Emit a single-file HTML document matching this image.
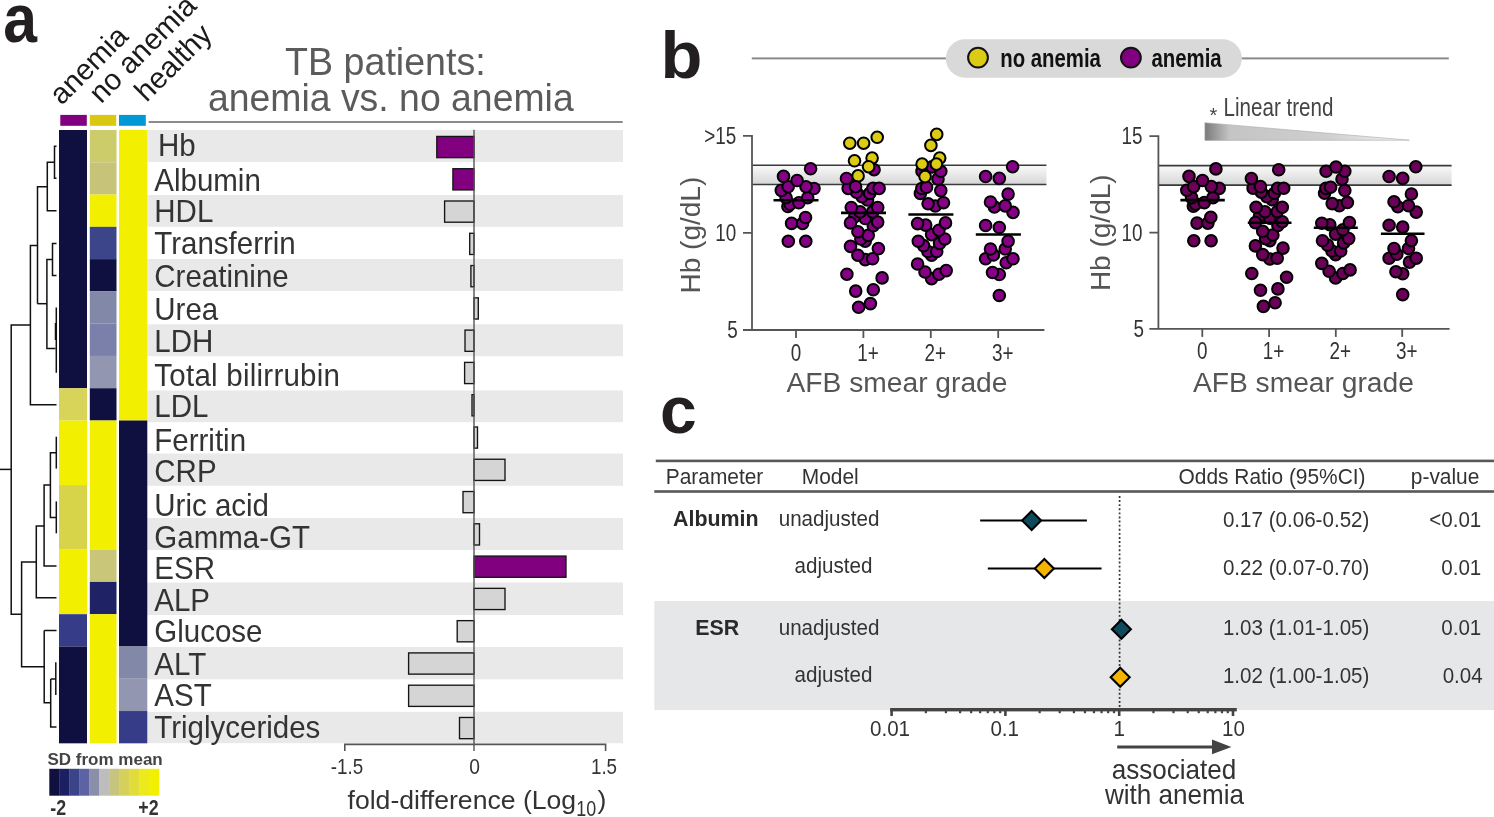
<!DOCTYPE html>
<html><head><meta charset="utf-8"><style>
html,body{margin:0;padding:0;background:#fff;}
svg{display:block;will-change:transform;}
text{font-family:"Liberation Sans", sans-serif;}
</style></head><body>
<svg width="1494" height="817" viewBox="0 0 1494 817">
<defs>
<linearGradient id="band" x1="0" y1="0" x2="0" y2="1">
<stop offset="0" stop-color="#fafafa"/><stop offset="1" stop-color="#d6d6d6"/></linearGradient>
<linearGradient id="tri" x1="0" y1="0" x2="1" y2="0">
<stop offset="0" stop-color="#7a7a7a"/><stop offset="0.12" stop-color="#c4c4c4"/><stop offset="0.6" stop-color="#cfcfcf"/><stop offset="1" stop-color="#f4f4f4"/></linearGradient>
</defs>

<text transform="translate(3.3,42.3) scale(0.88,1)" font-size="69" fill="#231f20" font-weight="bold" text-anchor="start" >a</text>
<text transform="translate(61.6,106.1) rotate(-45)" font-size="29.4" fill="#1a1a1a">anemia</text>
<text transform="translate(100.9,104.6) rotate(-45)" font-size="29.4" fill="#1a1a1a">no anemia</text>
<text transform="translate(146.6,103) rotate(-45)" font-size="29.4" fill="#1a1a1a">healthy</text>
<rect x="60.3" y="114.9" width="26.50" height="10.9" fill="#800080"/>
<rect x="89.8" y="114.9" width="26.40" height="10.9" fill="#d8c910"/>
<rect x="119" y="114.9" width="26.80" height="10.9" fill="#0099d6"/>
<text transform="translate(385.4,75.2) scale(1.0,1.02)" font-size="37.6" fill="#5b5b5b" font-weight="normal" text-anchor="middle" >TB patients:</text>
<text transform="translate(390.8,111.3) scale(1.0,1.02)" font-size="37.4" fill="#5b5b5b" font-weight="normal" text-anchor="middle" >anemia vs. no anemia</text>
<rect x="148.7" y="121" width="474" height="2" fill="#8a8a8a"/>
<rect x="147.3" y="130" width="475.7" height="31.9" fill="#e9e9e9"/>
<rect x="147.3" y="195" width="475.7" height="31.8" fill="#e9e9e9"/>
<rect x="147.3" y="259" width="475.7" height="32.0" fill="#e9e9e9"/>
<rect x="147.3" y="324.3" width="475.7" height="31.9" fill="#e9e9e9"/>
<rect x="147.3" y="390.5" width="475.7" height="31.7" fill="#e9e9e9"/>
<rect x="147.3" y="453.5" width="475.7" height="32.3" fill="#e9e9e9"/>
<rect x="147.3" y="518" width="475.7" height="32.0" fill="#e9e9e9"/>
<rect x="147.3" y="582.5" width="475.7" height="32.5" fill="#e9e9e9"/>
<rect x="147.3" y="647" width="475.7" height="32.3" fill="#e9e9e9"/>
<rect x="147.3" y="711.8" width="475.7" height="31.4" fill="#e9e9e9"/>
<rect x="59" y="130.00" width="28.00" height="258.24" fill="#0f1040"/>
<rect x="59" y="388.24" width="28.00" height="32.28" fill="#d8d45a"/>
<rect x="59" y="420.52" width="28.00" height="64.56" fill="#f2ef00"/>
<rect x="59" y="485.08" width="28.00" height="64.56" fill="#d8d44a"/>
<rect x="59" y="549.64" width="28.00" height="64.56" fill="#f2ef00"/>
<rect x="59" y="614.20" width="28.00" height="32.28" fill="#363c88"/>
<rect x="59" y="646.48" width="28.00" height="96.84" fill="#0f1040"/>
<rect x="89.8" y="130.00" width="26.70" height="32.28" fill="#cccc6a"/>
<rect x="89.8" y="162.28" width="26.70" height="32.28" fill="#c7c47a"/>
<rect x="89.8" y="194.56" width="26.70" height="32.28" fill="#f2ef00"/>
<rect x="89.8" y="226.84" width="26.70" height="32.28" fill="#3c448a"/>
<rect x="89.8" y="259.12" width="26.70" height="32.28" fill="#0f1040"/>
<rect x="89.8" y="291.40" width="26.70" height="32.28" fill="#8288a8"/>
<rect x="89.8" y="323.68" width="26.70" height="32.28" fill="#7a80aa"/>
<rect x="89.8" y="355.96" width="26.70" height="32.28" fill="#9296b0"/>
<rect x="89.8" y="388.24" width="26.70" height="32.28" fill="#0f1040"/>
<rect x="89.8" y="420.52" width="26.70" height="129.12" fill="#f2ef00"/>
<rect x="89.8" y="549.64" width="26.70" height="32.28" fill="#c9c679"/>
<rect x="89.8" y="581.92" width="26.70" height="32.28" fill="#1f2366"/>
<rect x="89.8" y="614.20" width="26.70" height="129.12" fill="#f2ef00"/>
<rect x="119" y="130.00" width="28.30" height="290.52" fill="#f2ef00"/>
<rect x="119" y="420.52" width="28.30" height="225.96" fill="#0f1040"/>
<rect x="119" y="646.48" width="28.30" height="32.28" fill="#8288a8"/>
<rect x="119" y="678.76" width="28.30" height="32.28" fill="#9296b0"/>
<rect x="119" y="711.04" width="28.30" height="32.28" fill="#363c88"/>
<text transform="translate(158,155.8) scale(1.0,1.04)" font-size="29.5" fill="#333" font-weight="normal" text-anchor="start" >Hb</text>
<text transform="translate(154.3,190.6) scale(1.0,1.04)" font-size="29.5" fill="#333" font-weight="normal" text-anchor="start" >Albumin</text>
<text transform="translate(154.3,221.8) scale(1.0,1.04)" font-size="29.5" fill="#333" font-weight="normal" text-anchor="start" >HDL</text>
<text transform="translate(154.3,253.6) scale(1.0,1.04)" font-size="29.5" fill="#333" font-weight="normal" text-anchor="start" >Transferrin</text>
<text transform="translate(154.3,287.3) scale(1.0,1.04)" font-size="29.5" fill="#333" font-weight="normal" text-anchor="start" >Creatinine</text>
<text transform="translate(154.3,320.2) scale(1.0,1.04)" font-size="29.5" fill="#333" font-weight="normal" text-anchor="start" >Urea</text>
<text transform="translate(154.3,351.8) scale(1.0,1.04)" font-size="29.5" fill="#333" font-weight="normal" text-anchor="start" >LDH</text>
<text transform="translate(154.3,386.2) scale(1.0,1.04)" font-size="29.5" fill="#333" font-weight="normal" text-anchor="start" letter-spacing="0.25">Total bilirrubin</text>
<text transform="translate(154.3,417.4) scale(1.0,1.04)" font-size="29.5" fill="#333" font-weight="normal" text-anchor="start" >LDL</text>
<text transform="translate(154.3,450.7) scale(1.0,1.04)" font-size="29.5" fill="#333" font-weight="normal" text-anchor="start" >Ferritin</text>
<text transform="translate(154.3,482.3) scale(1.0,1.04)" font-size="29.5" fill="#333" font-weight="normal" text-anchor="start" >CRP</text>
<text transform="translate(154.3,516) scale(1.0,1.04)" font-size="29.5" fill="#333" font-weight="normal" text-anchor="start" >Uric acid</text>
<text transform="translate(154.3,547.8) scale(1.0,1.04)" font-size="29.5" fill="#333" font-weight="normal" text-anchor="start" >Gamma-GT</text>
<text transform="translate(154.3,579.4) scale(1.0,1.04)" font-size="29.5" fill="#333" font-weight="normal" text-anchor="start" >ESR</text>
<text transform="translate(154.3,611.4) scale(1.0,1.04)" font-size="29.5" fill="#333" font-weight="normal" text-anchor="start" >ALP</text>
<text transform="translate(154.3,642) scale(1.0,1.04)" font-size="29.5" fill="#333" font-weight="normal" text-anchor="start" >Glucose</text>
<text transform="translate(154.3,675.1) scale(1.0,1.04)" font-size="29.5" fill="#333" font-weight="normal" text-anchor="start" >ALT</text>
<text transform="translate(154.3,706.3) scale(1.0,1.04)" font-size="29.5" fill="#333" font-weight="normal" text-anchor="start" >AST</text>
<text transform="translate(154.3,738.2) scale(1.0,1.04)" font-size="29.5" fill="#333" font-weight="normal" text-anchor="start" >Triglycerides</text>
<rect x="436.80" y="136.44" width="37.20" height="21.2" fill="#800080" stroke="#151515" stroke-width="1.35"/>
<rect x="452.90" y="168.72" width="21.10" height="21.2" fill="#800080" stroke="#151515" stroke-width="1.35"/>
<rect x="444.60" y="201.00" width="29.40" height="21.2" fill="#d5d5d5" stroke="#151515" stroke-width="1.35"/>
<rect x="469.70" y="233.28" width="4.30" height="21.2" fill="#d5d5d5" stroke="#151515" stroke-width="1.35"/>
<rect x="470.90" y="265.56" width="3.10" height="21.2" fill="#d5d5d5" stroke="#151515" stroke-width="1.35"/>
<rect x="474.00" y="297.84" width="4.30" height="21.2" fill="#d5d5d5" stroke="#151515" stroke-width="1.35"/>
<rect x="465.00" y="330.12" width="9.00" height="21.2" fill="#d5d5d5" stroke="#151515" stroke-width="1.35"/>
<rect x="464.60" y="362.40" width="9.40" height="21.2" fill="#d5d5d5" stroke="#151515" stroke-width="1.35"/>
<rect x="472.00" y="394.68" width="2.00" height="21.2" fill="#d5d5d5" stroke="#151515" stroke-width="1.35"/>
<rect x="474.00" y="426.96" width="3.50" height="21.2" fill="#d5d5d5" stroke="#151515" stroke-width="1.35"/>
<rect x="474.00" y="459.24" width="31.00" height="21.2" fill="#d5d5d5" stroke="#151515" stroke-width="1.35"/>
<rect x="463.00" y="491.52" width="11.00" height="21.2" fill="#d5d5d5" stroke="#151515" stroke-width="1.35"/>
<rect x="474.00" y="523.80" width="5.50" height="21.2" fill="#d5d5d5" stroke="#151515" stroke-width="1.35"/>
<rect x="474.00" y="556.08" width="92.00" height="21.2" fill="#800080" stroke="#151515" stroke-width="1.35"/>
<rect x="474.00" y="588.36" width="31.00" height="21.2" fill="#d5d5d5" stroke="#151515" stroke-width="1.35"/>
<rect x="457.20" y="620.64" width="16.80" height="21.2" fill="#d5d5d5" stroke="#151515" stroke-width="1.35"/>
<rect x="408.60" y="652.92" width="65.40" height="21.2" fill="#d5d5d5" stroke="#151515" stroke-width="1.35"/>
<rect x="408.60" y="685.20" width="65.40" height="21.2" fill="#d5d5d5" stroke="#151515" stroke-width="1.35"/>
<rect x="459.50" y="717.48" width="14.50" height="21.2" fill="#d5d5d5" stroke="#151515" stroke-width="1.35"/>
<line x1="474" y1="129.8" x2="474" y2="751" stroke="#555" stroke-width="1.4"/>
<path d="M344.8,751 V744.4 H605.6 V751" fill="none" stroke="#555" stroke-width="1.6"/>
<text transform="translate(347,774) scale(0.88,1.0)" font-size="21.4" fill="#333" font-weight="normal" text-anchor="middle" >-1.5</text>
<text transform="translate(474.6,774) scale(0.9,1.0)" font-size="21.4" fill="#333" font-weight="normal" text-anchor="middle" >0</text>
<text transform="translate(604,774) scale(0.88,1.0)" font-size="21.4" fill="#333" font-weight="normal" text-anchor="middle" >1.5</text>
<text x="347.5" y="809" font-size="26.6" fill="#333" font-weight="normal" text-anchor="start" >fold-difference (Log</text>
<text transform="translate(576.3,816) scale(0.8,1.0)" font-size="22.4" fill="#333" font-weight="normal" text-anchor="start" >10</text>
<text x="597.5" y="809" font-size="26.6" fill="#333" font-weight="normal" text-anchor="start" >)</text>
<text x="47.5" y="765.1" font-size="17" fill="#444" font-weight="bold" text-anchor="start" >SD from mean</text>
<rect x="49.30" y="768.8" width="10.27" height="26.9" fill="#0f1040"/>
<rect x="59.27" y="768.8" width="10.27" height="26.9" fill="#1c1f62"/>
<rect x="69.25" y="768.8" width="10.27" height="26.9" fill="#3a4488"/>
<rect x="79.22" y="768.8" width="10.27" height="26.9" fill="#5c62a4"/>
<rect x="89.19" y="768.8" width="10.27" height="26.9" fill="#8a8ea8"/>
<rect x="99.16" y="768.8" width="10.27" height="26.9" fill="#bdbdbd"/>
<rect x="109.14" y="768.8" width="10.27" height="26.9" fill="#c6c47e"/>
<rect x="119.11" y="768.8" width="10.27" height="26.9" fill="#d4d05a"/>
<rect x="129.08" y="768.8" width="10.27" height="26.9" fill="#e0dc3c"/>
<rect x="139.05" y="768.8" width="10.27" height="26.9" fill="#ecea1c"/>
<rect x="149.03" y="768.8" width="10.27" height="26.9" fill="#f2f000"/>
<text transform="translate(50.3,815.1) scale(0.79,1.0)" font-size="22.5" fill="#333" font-weight="bold" text-anchor="start" >-2</text>
<text transform="translate(158.6,815.1) scale(0.79,1.0)" font-size="22.5" fill="#333" font-weight="bold" text-anchor="end" >+2</text>
<path d="M56.5,146.2 H54.5 V178.3 H56.5" fill="none" stroke="#111" stroke-width="1.5"/>
<path d="M54.5,162.3 H47.3 V210.7 H56.5" fill="none" stroke="#111" stroke-width="1.5"/>
<path d="M47.3,186.8 H37.5 V303.7" fill="none" stroke="#111" stroke-width="1.5"/>
<path d="M56.5,243.4 H52.5 V275.6 H56.5" fill="none" stroke="#111" stroke-width="1.5"/>
<path d="M52.5,259.5 H46.9 V348.4 H55.5" fill="none" stroke="#111" stroke-width="1.5"/>
<path d="M37.5,303.7 H47" fill="none" stroke="#111" stroke-width="1.5"/>
<path d="M56.3,307.6 V372 H57" fill="none" stroke="#111" stroke-width="1.5"/>
<path d="M55.5,323 V340" fill="none" stroke="#111" stroke-width="1.5"/>
<path d="M37.5,245.6 H30.4 V404.7 H56.5" fill="none" stroke="#111" stroke-width="1.5"/>
<path d="M30.4,325 H11.2 V614.2 H21.6" fill="none" stroke="#111" stroke-width="1.5"/>
<path d="M0,469.4 H11.2" fill="none" stroke="#111" stroke-width="1.5"/>
<path d="M56.3,436.7 V468.6" fill="none" stroke="#111" stroke-width="1.5"/>
<path d="M56.3,452.7 H50.4 V517.5 H56.3" fill="none" stroke="#111" stroke-width="1.5"/>
<path d="M56.3,501.4 V533.3" fill="none" stroke="#111" stroke-width="1.5"/>
<path d="M50.4,485 H44.1 V566 H56.5" fill="none" stroke="#111" stroke-width="1.5"/>
<path d="M44.1,525.9 H36.3 V597.7 H56.5" fill="none" stroke="#111" stroke-width="1.5"/>
<path d="M36.3,562 H21.6 V666.7 H44.2" fill="none" stroke="#111" stroke-width="1.5"/>
<path d="M44.2,630.5 H56.5" fill="none" stroke="#111" stroke-width="1.5"/>
<path d="M44.2,630.5 V702.8 H50.7" fill="none" stroke="#111" stroke-width="1.5"/>
<path d="M50.7,679 H55.8" fill="none" stroke="#111" stroke-width="1.5"/>
<path d="M50.7,679 V727 H56.5" fill="none" stroke="#111" stroke-width="1.5"/>
<path d="M55.8,662.3 V694.9" fill="none" stroke="#111" stroke-width="1.5"/>
<text transform="translate(660.5,77.6) scale(1.04,1)" font-size="66" fill="#231f20" font-weight="bold" text-anchor="start" >b</text>
<rect x="751.8" y="57.4" width="697" height="2" fill="#8a8a8a"/>
<rect x="945.8" y="39.3" width="296.1" height="38.4" rx="19.2" fill="#d9d9d9"/>
<circle cx="978" cy="57.6" r="9.9" fill="#dccb14" stroke="#111" stroke-width="2"/>
<circle cx="1130.9" cy="57.6" r="9.9" fill="#800080" stroke="#111" stroke-width="2"/>
<text transform="translate(1000.2,67.4) scale(0.79,1.0)" font-size="25.8" fill="#111" font-weight="bold" text-anchor="start" >no anemia</text>
<text transform="translate(1151.5,67.4) scale(0.79,1.0)" font-size="25.8" fill="#111" font-weight="bold" text-anchor="start" >anemia</text>
<rect x="752" y="165.30" width="294.4000000000001" height="19.20" fill="url(#band)"/>
<line x1="752" y1="165.30" x2="1046.4" y2="165.30" stroke="#3a3a3a" stroke-width="1.6"/>
<line x1="752" y1="184.50" x2="1046.4" y2="184.50" stroke="#3a3a3a" stroke-width="1.6"/>
<path d="M743,135.9 H752 V330 H1044.4" fill="none" stroke="#555" stroke-width="1.8"/>
<path d="M743,232.95 H752 M743,330 H752" fill="none" stroke="#555" stroke-width="1.8"/>
<line x1="796" y1="330" x2="796" y2="338" stroke="#555" stroke-width="1.8"/>
<line x1="863.4" y1="330" x2="863.4" y2="338" stroke="#555" stroke-width="1.8"/>
<line x1="930.8" y1="330" x2="930.8" y2="338" stroke="#555" stroke-width="1.8"/>
<line x1="998.2" y1="330" x2="998.2" y2="338" stroke="#555" stroke-width="1.8"/>
<text transform="translate(736.2,143.9) scale(0.81,1.0)" font-size="23.3" fill="#333" font-weight="normal" text-anchor="end" >&gt;15</text>
<text transform="translate(736.2,240.95) scale(0.81,1.0)" font-size="23.3" fill="#333" font-weight="normal" text-anchor="end" >10</text>
<text transform="translate(737.7,338) scale(0.81,1.0)" font-size="23.3" fill="#333" font-weight="normal" text-anchor="end" >5</text>
<text transform="translate(796,360.5) scale(0.81,1.0)" font-size="23.3" fill="#333" font-weight="normal" text-anchor="middle" >0</text>
<text transform="translate(867.9,360.5) scale(0.81,1.0)" font-size="23.3" fill="#333" font-weight="normal" text-anchor="middle" >1+</text>
<text transform="translate(935.3,360.5) scale(0.81,1.0)" font-size="23.3" fill="#333" font-weight="normal" text-anchor="middle" >2+</text>
<text transform="translate(1002.7,360.5) scale(0.81,1.0)" font-size="23.3" fill="#333" font-weight="normal" text-anchor="middle" >3+</text>
<text transform="translate(700.2,235.14999999999998) rotate(-90)" font-size="28" fill="#555" text-anchor="middle">Hb (g/dL)</text>
<text x="897" y="391.5" font-size="28.2" fill="#555" font-weight="normal" text-anchor="middle" >AFB smear grade</text>
<circle cx="858.1" cy="175.9" r="5.8" fill="#dccb14" stroke="#000" stroke-width="2"/>
<circle cx="854.7" cy="216.8" r="5.8" fill="#860086" stroke="#000" stroke-width="2"/>
<circle cx="858.6" cy="307.3" r="5.8" fill="#860086" stroke="#000" stroke-width="2"/>
<circle cx="870.4" cy="303.6" r="5.8" fill="#860086" stroke="#000" stroke-width="2"/>
<circle cx="999.3" cy="295.5" r="5.8" fill="#860086" stroke="#000" stroke-width="2"/>
<circle cx="855.7" cy="291.1" r="5.8" fill="#860086" stroke="#000" stroke-width="2"/>
<circle cx="873.3" cy="289.7" r="5.8" fill="#860086" stroke="#000" stroke-width="2"/>
<circle cx="931.6" cy="278.7" r="5.8" fill="#860086" stroke="#000" stroke-width="2"/>
<circle cx="882.1" cy="277.9" r="5.8" fill="#860086" stroke="#000" stroke-width="2"/>
<circle cx="999.3" cy="274.5" r="5.8" fill="#860086" stroke="#000" stroke-width="2"/>
<circle cx="846.9" cy="274.2" r="5.8" fill="#860086" stroke="#000" stroke-width="2"/>
<circle cx="938.9" cy="274.2" r="5.8" fill="#860086" stroke="#000" stroke-width="2"/>
<circle cx="992.5" cy="272.5" r="5.8" fill="#860086" stroke="#000" stroke-width="2"/>
<circle cx="925.0" cy="272.0" r="5.8" fill="#860086" stroke="#000" stroke-width="2"/>
<circle cx="946.2" cy="270.6" r="5.8" fill="#860086" stroke="#000" stroke-width="2"/>
<circle cx="917.6" cy="264.0" r="5.8" fill="#860086" stroke="#000" stroke-width="2"/>
<circle cx="1006.2" cy="262.7" r="5.8" fill="#860086" stroke="#000" stroke-width="2"/>
<circle cx="865.2" cy="259.6" r="5.8" fill="#860086" stroke="#000" stroke-width="2"/>
<circle cx="872.6" cy="258.8" r="5.8" fill="#860086" stroke="#000" stroke-width="2"/>
<circle cx="985.6" cy="258.8" r="5.8" fill="#860086" stroke="#000" stroke-width="2"/>
<circle cx="1013.0" cy="258.8" r="5.8" fill="#860086" stroke="#000" stroke-width="2"/>
<circle cx="857.9" cy="255.2" r="5.8" fill="#860086" stroke="#000" stroke-width="2"/>
<circle cx="931.6" cy="255.2" r="5.8" fill="#860086" stroke="#000" stroke-width="2"/>
<circle cx="993.4" cy="254.9" r="5.8" fill="#860086" stroke="#000" stroke-width="2"/>
<circle cx="927.9" cy="251.5" r="5.8" fill="#860086" stroke="#000" stroke-width="2"/>
<circle cx="936.7" cy="251.5" r="5.8" fill="#860086" stroke="#000" stroke-width="2"/>
<circle cx="990.5" cy="249.0" r="5.8" fill="#860086" stroke="#000" stroke-width="2"/>
<circle cx="1005.2" cy="249.0" r="5.8" fill="#860086" stroke="#000" stroke-width="2"/>
<circle cx="878.4" cy="248.6" r="5.8" fill="#860086" stroke="#000" stroke-width="2"/>
<circle cx="850.5" cy="246.4" r="5.8" fill="#860086" stroke="#000" stroke-width="2"/>
<circle cx="923.5" cy="245.6" r="5.8" fill="#860086" stroke="#000" stroke-width="2"/>
<circle cx="939.6" cy="243.4" r="5.8" fill="#860086" stroke="#000" stroke-width="2"/>
<circle cx="788.3" cy="241.3" r="5.8" fill="#860086" stroke="#000" stroke-width="2"/>
<circle cx="805.8" cy="241.3" r="5.8" fill="#860086" stroke="#000" stroke-width="2"/>
<circle cx="865.2" cy="241.2" r="5.8" fill="#860086" stroke="#000" stroke-width="2"/>
<circle cx="918.3" cy="241.2" r="5.8" fill="#860086" stroke="#000" stroke-width="2"/>
<circle cx="1008.1" cy="241.2" r="5.8" fill="#860086" stroke="#000" stroke-width="2"/>
<circle cx="860.8" cy="239.0" r="5.8" fill="#860086" stroke="#000" stroke-width="2"/>
<circle cx="944.8" cy="239.0" r="5.8" fill="#860086" stroke="#000" stroke-width="2"/>
<circle cx="868.2" cy="235.4" r="5.8" fill="#860086" stroke="#000" stroke-width="2"/>
<circle cx="931.6" cy="234.6" r="5.8" fill="#860086" stroke="#000" stroke-width="2"/>
<circle cx="857.9" cy="231.7" r="5.8" fill="#860086" stroke="#000" stroke-width="2"/>
<circle cx="938.9" cy="230.2" r="5.8" fill="#860086" stroke="#000" stroke-width="2"/>
<circle cx="999.3" cy="227.5" r="5.8" fill="#860086" stroke="#000" stroke-width="2"/>
<circle cx="873.3" cy="225.8" r="5.8" fill="#860086" stroke="#000" stroke-width="2"/>
<circle cx="985.6" cy="225.5" r="5.8" fill="#860086" stroke="#000" stroke-width="2"/>
<circle cx="925.7" cy="225.1" r="5.8" fill="#860086" stroke="#000" stroke-width="2"/>
<circle cx="917.6" cy="223.6" r="5.8" fill="#860086" stroke="#000" stroke-width="2"/>
<circle cx="791.6" cy="223.4" r="5.8" fill="#860086" stroke="#000" stroke-width="2"/>
<circle cx="802.6" cy="223.4" r="5.8" fill="#860086" stroke="#000" stroke-width="2"/>
<circle cx="850.5" cy="222.9" r="5.8" fill="#860086" stroke="#000" stroke-width="2"/>
<circle cx="945.5" cy="222.9" r="5.8" fill="#860086" stroke="#000" stroke-width="2"/>
<circle cx="877.7" cy="222.1" r="5.8" fill="#860086" stroke="#000" stroke-width="2"/>
<circle cx="865.2" cy="218.5" r="5.8" fill="#860086" stroke="#000" stroke-width="2"/>
<circle cx="805.5" cy="217.5" r="5.8" fill="#860086" stroke="#000" stroke-width="2"/>
<circle cx="1013.0" cy="212.4" r="5.8" fill="#860086" stroke="#000" stroke-width="2"/>
<circle cx="860.1" cy="211.9" r="5.8" fill="#860086" stroke="#000" stroke-width="2"/>
<circle cx="872.6" cy="211.9" r="5.8" fill="#860086" stroke="#000" stroke-width="2"/>
<circle cx="851.3" cy="207.5" r="5.8" fill="#860086" stroke="#000" stroke-width="2"/>
<circle cx="877.7" cy="207.5" r="5.8" fill="#860086" stroke="#000" stroke-width="2"/>
<circle cx="994.4" cy="206.9" r="5.8" fill="#860086" stroke="#000" stroke-width="2"/>
<circle cx="787.9" cy="206.5" r="5.8" fill="#860086" stroke="#000" stroke-width="2"/>
<circle cx="935.3" cy="206.0" r="5.8" fill="#860086" stroke="#000" stroke-width="2"/>
<circle cx="1005.2" cy="205.9" r="5.8" fill="#860086" stroke="#000" stroke-width="2"/>
<circle cx="790.1" cy="204.3" r="5.8" fill="#860086" stroke="#000" stroke-width="2"/>
<circle cx="928.1" cy="203.8" r="5.8" fill="#860086" stroke="#000" stroke-width="2"/>
<circle cx="798.9" cy="202.8" r="5.8" fill="#860086" stroke="#000" stroke-width="2"/>
<circle cx="943.5" cy="202.7" r="5.8" fill="#860086" stroke="#000" stroke-width="2"/>
<circle cx="990.5" cy="202.0" r="5.8" fill="#860086" stroke="#000" stroke-width="2"/>
<circle cx="867.5" cy="200.0" r="5.8" fill="#860086" stroke="#000" stroke-width="2"/>
<circle cx="786.1" cy="197.7" r="5.8" fill="#860086" stroke="#000" stroke-width="2"/>
<circle cx="807.7" cy="197.7" r="5.8" fill="#860086" stroke="#000" stroke-width="2"/>
<circle cx="862.0" cy="196.7" r="5.8" fill="#860086" stroke="#000" stroke-width="2"/>
<circle cx="1008.1" cy="194.1" r="5.8" fill="#860086" stroke="#000" stroke-width="2"/>
<circle cx="869.7" cy="193.4" r="5.8" fill="#860086" stroke="#000" stroke-width="2"/>
<circle cx="920.4" cy="193.4" r="5.8" fill="#860086" stroke="#000" stroke-width="2"/>
<circle cx="856.5" cy="192.3" r="5.8" fill="#860086" stroke="#000" stroke-width="2"/>
<circle cx="940.8" cy="190.6" r="5.8" fill="#860086" stroke="#000" stroke-width="2"/>
<circle cx="781.3" cy="190.4" r="5.8" fill="#860086" stroke="#000" stroke-width="2"/>
<circle cx="814.0" cy="188.5" r="5.8" fill="#860086" stroke="#000" stroke-width="2"/>
<circle cx="921.8" cy="188.5" r="5.8" fill="#860086" stroke="#000" stroke-width="2"/>
<circle cx="848.2" cy="188.4" r="5.8" fill="#860086" stroke="#000" stroke-width="2"/>
<circle cx="873.0" cy="188.4" r="5.8" fill="#860086" stroke="#000" stroke-width="2"/>
<circle cx="879.1" cy="188.4" r="5.8" fill="#860086" stroke="#000" stroke-width="2"/>
<circle cx="926.5" cy="187.3" r="5.8" fill="#860086" stroke="#000" stroke-width="2"/>
<circle cx="788.2" cy="186.7" r="5.8" fill="#860086" stroke="#000" stroke-width="2"/>
<circle cx="806.0" cy="186.7" r="5.8" fill="#860086" stroke="#000" stroke-width="2"/>
<circle cx="855.6" cy="186.7" r="5.8" fill="#860086" stroke="#000" stroke-width="2"/>
<circle cx="797.1" cy="180.5" r="5.8" fill="#860086" stroke="#000" stroke-width="2"/>
<circle cx="938.0" cy="179.0" r="5.8" fill="#860086" stroke="#000" stroke-width="2"/>
<circle cx="846.5" cy="178.5" r="5.8" fill="#860086" stroke="#000" stroke-width="2"/>
<circle cx="999.3" cy="178.4" r="5.8" fill="#860086" stroke="#000" stroke-width="2"/>
<circle cx="985.6" cy="176.5" r="5.8" fill="#860086" stroke="#000" stroke-width="2"/>
<circle cx="783.5" cy="176.4" r="5.8" fill="#860086" stroke="#000" stroke-width="2"/>
<circle cx="940.8" cy="171.3" r="5.8" fill="#860086" stroke="#000" stroke-width="2"/>
<circle cx="922.0" cy="171.3" r="5.8" fill="#860086" stroke="#000" stroke-width="2"/>
<circle cx="874.1" cy="169.7" r="5.8" fill="#860086" stroke="#000" stroke-width="2"/>
<circle cx="810.6" cy="168.8" r="5.8" fill="#860086" stroke="#000" stroke-width="2"/>
<circle cx="932.0" cy="166.9" r="5.8" fill="#860086" stroke="#000" stroke-width="2"/>
<circle cx="1012.6" cy="166.7" r="5.8" fill="#860086" stroke="#000" stroke-width="2"/>
<circle cx="936.7" cy="134.4" r="5.8" fill="#dccb14" stroke="#000" stroke-width="2"/>
<circle cx="877.2" cy="137.3" r="5.8" fill="#dccb14" stroke="#000" stroke-width="2"/>
<circle cx="849.8" cy="143.2" r="5.8" fill="#dccb14" stroke="#000" stroke-width="2"/>
<circle cx="863.6" cy="143.2" r="5.8" fill="#dccb14" stroke="#000" stroke-width="2"/>
<circle cx="930.9" cy="145.4" r="5.8" fill="#dccb14" stroke="#000" stroke-width="2"/>
<circle cx="872.1" cy="158.1" r="5.8" fill="#dccb14" stroke="#000" stroke-width="2"/>
<circle cx="939.7" cy="158.1" r="5.8" fill="#dccb14" stroke="#000" stroke-width="2"/>
<circle cx="854.5" cy="160.8" r="5.8" fill="#dccb14" stroke="#000" stroke-width="2"/>
<circle cx="922.1" cy="164.1" r="5.8" fill="#dccb14" stroke="#000" stroke-width="2"/>
<circle cx="936.4" cy="164.1" r="5.8" fill="#dccb14" stroke="#000" stroke-width="2"/>
<circle cx="868.6" cy="166.7" r="5.8" fill="#dccb14" stroke="#000" stroke-width="2"/>
<circle cx="925.1" cy="176.6" r="5.8" fill="#dccb14" stroke="#000" stroke-width="2"/>
<line x1="773.5" y1="200.3" x2="818.5" y2="200.3" stroke="#000" stroke-width="2.6"/>
<line x1="841" y1="212.9" x2="886" y2="212.9" stroke="#000" stroke-width="2.6"/>
<line x1="908.4" y1="214.5" x2="953.4" y2="214.5" stroke="#000" stroke-width="2.6"/>
<line x1="975.8" y1="234.5" x2="1020.9" y2="234.5" stroke="#000" stroke-width="2.6"/>
<rect x="1158.4" y="165.60" width="293.1999999999998" height="19.50" fill="url(#band)"/>
<line x1="1158.4" y1="165.60" x2="1451.6" y2="165.60" stroke="#3a3a3a" stroke-width="1.6"/>
<line x1="1158.4" y1="185.10" x2="1451.6" y2="185.10" stroke="#3a3a3a" stroke-width="1.6"/>
<path d="M1149.4,136.2 H1158.4 V328.9 H1449.6" fill="none" stroke="#555" stroke-width="1.8"/>
<path d="M1149.4,232.54999999999998 H1158.4 M1149.4,328.9 H1158.4" fill="none" stroke="#555" stroke-width="1.8"/>
<line x1="1202.3" y1="328.9" x2="1202.3" y2="336.9" stroke="#555" stroke-width="1.8"/>
<line x1="1269.1" y1="328.9" x2="1269.1" y2="336.9" stroke="#555" stroke-width="1.8"/>
<line x1="1335.8" y1="328.9" x2="1335.8" y2="336.9" stroke="#555" stroke-width="1.8"/>
<line x1="1402.2" y1="328.9" x2="1402.2" y2="336.9" stroke="#555" stroke-width="1.8"/>
<text transform="translate(1142.6000000000001,144.2) scale(0.81,1.0)" font-size="23.3" fill="#333" font-weight="normal" text-anchor="end" >15</text>
<text transform="translate(1142.6000000000001,240.54999999999998) scale(0.81,1.0)" font-size="23.3" fill="#333" font-weight="normal" text-anchor="end" >10</text>
<text transform="translate(1144.1000000000001,336.9) scale(0.81,1.0)" font-size="23.3" fill="#333" font-weight="normal" text-anchor="end" >5</text>
<text transform="translate(1202.3,359.4) scale(0.81,1.0)" font-size="23.3" fill="#333" font-weight="normal" text-anchor="middle" >0</text>
<text transform="translate(1273.6,359.4) scale(0.81,1.0)" font-size="23.3" fill="#333" font-weight="normal" text-anchor="middle" >1+</text>
<text transform="translate(1340.3,359.4) scale(0.81,1.0)" font-size="23.3" fill="#333" font-weight="normal" text-anchor="middle" >2+</text>
<text transform="translate(1406.7,359.4) scale(0.81,1.0)" font-size="23.3" fill="#333" font-weight="normal" text-anchor="middle" >3+</text>
<text transform="translate(1109.6000000000001,232.74999999999997) rotate(-90)" font-size="28" fill="#555" text-anchor="middle">Hb (g/dL)</text>
<text x="1303.4" y="391.5" font-size="28.2" fill="#555" font-weight="normal" text-anchor="middle" >AFB smear grade</text>
<circle cx="1259.5" cy="216.5" r="5.8" fill="#6a0058" stroke="#000" stroke-width="2"/>
<circle cx="1263.4" cy="306.4" r="5.8" fill="#6a0058" stroke="#000" stroke-width="2"/>
<circle cx="1275.1" cy="302.7" r="5.8" fill="#6a0058" stroke="#000" stroke-width="2"/>
<circle cx="1402.7" cy="294.6" r="5.8" fill="#6a0058" stroke="#000" stroke-width="2"/>
<circle cx="1260.5" cy="290.3" r="5.8" fill="#6a0058" stroke="#000" stroke-width="2"/>
<circle cx="1277.9" cy="288.9" r="5.8" fill="#6a0058" stroke="#000" stroke-width="2"/>
<circle cx="1335.6" cy="278.0" r="5.8" fill="#6a0058" stroke="#000" stroke-width="2"/>
<circle cx="1286.6" cy="277.2" r="5.8" fill="#6a0058" stroke="#000" stroke-width="2"/>
<circle cx="1402.7" cy="273.8" r="5.8" fill="#6a0058" stroke="#000" stroke-width="2"/>
<circle cx="1251.8" cy="273.5" r="5.8" fill="#6a0058" stroke="#000" stroke-width="2"/>
<circle cx="1342.9" cy="273.5" r="5.8" fill="#6a0058" stroke="#000" stroke-width="2"/>
<circle cx="1395.9" cy="271.8" r="5.8" fill="#6a0058" stroke="#000" stroke-width="2"/>
<circle cx="1329.1" cy="271.3" r="5.8" fill="#6a0058" stroke="#000" stroke-width="2"/>
<circle cx="1350.1" cy="269.9" r="5.8" fill="#6a0058" stroke="#000" stroke-width="2"/>
<circle cx="1321.8" cy="263.4" r="5.8" fill="#6a0058" stroke="#000" stroke-width="2"/>
<circle cx="1409.5" cy="262.1" r="5.8" fill="#6a0058" stroke="#000" stroke-width="2"/>
<circle cx="1269.9" cy="259.0" r="5.8" fill="#6a0058" stroke="#000" stroke-width="2"/>
<circle cx="1277.2" cy="258.2" r="5.8" fill="#6a0058" stroke="#000" stroke-width="2"/>
<circle cx="1389.1" cy="258.2" r="5.8" fill="#6a0058" stroke="#000" stroke-width="2"/>
<circle cx="1416.2" cy="258.2" r="5.8" fill="#6a0058" stroke="#000" stroke-width="2"/>
<circle cx="1262.7" cy="254.6" r="5.8" fill="#6a0058" stroke="#000" stroke-width="2"/>
<circle cx="1335.6" cy="254.6" r="5.8" fill="#6a0058" stroke="#000" stroke-width="2"/>
<circle cx="1396.8" cy="254.3" r="5.8" fill="#6a0058" stroke="#000" stroke-width="2"/>
<circle cx="1332.0" cy="251.0" r="5.8" fill="#6a0058" stroke="#000" stroke-width="2"/>
<circle cx="1340.7" cy="251.0" r="5.8" fill="#6a0058" stroke="#000" stroke-width="2"/>
<circle cx="1394.0" cy="248.5" r="5.8" fill="#6a0058" stroke="#000" stroke-width="2"/>
<circle cx="1408.5" cy="248.5" r="5.8" fill="#6a0058" stroke="#000" stroke-width="2"/>
<circle cx="1283.0" cy="248.1" r="5.8" fill="#6a0058" stroke="#000" stroke-width="2"/>
<circle cx="1255.4" cy="245.9" r="5.8" fill="#6a0058" stroke="#000" stroke-width="2"/>
<circle cx="1327.6" cy="245.1" r="5.8" fill="#6a0058" stroke="#000" stroke-width="2"/>
<circle cx="1343.6" cy="242.9" r="5.8" fill="#6a0058" stroke="#000" stroke-width="2"/>
<circle cx="1193.8" cy="240.8" r="5.8" fill="#6a0058" stroke="#000" stroke-width="2"/>
<circle cx="1211.1" cy="240.8" r="5.8" fill="#6a0058" stroke="#000" stroke-width="2"/>
<circle cx="1269.9" cy="240.7" r="5.8" fill="#6a0058" stroke="#000" stroke-width="2"/>
<circle cx="1322.5" cy="240.7" r="5.8" fill="#6a0058" stroke="#000" stroke-width="2"/>
<circle cx="1411.4" cy="240.7" r="5.8" fill="#6a0058" stroke="#000" stroke-width="2"/>
<circle cx="1265.6" cy="238.6" r="5.8" fill="#6a0058" stroke="#000" stroke-width="2"/>
<circle cx="1348.7" cy="238.6" r="5.8" fill="#6a0058" stroke="#000" stroke-width="2"/>
<circle cx="1272.9" cy="235.0" r="5.8" fill="#6a0058" stroke="#000" stroke-width="2"/>
<circle cx="1335.6" cy="234.2" r="5.8" fill="#6a0058" stroke="#000" stroke-width="2"/>
<circle cx="1262.7" cy="231.3" r="5.8" fill="#6a0058" stroke="#000" stroke-width="2"/>
<circle cx="1342.9" cy="229.8" r="5.8" fill="#6a0058" stroke="#000" stroke-width="2"/>
<circle cx="1402.7" cy="227.1" r="5.8" fill="#6a0058" stroke="#000" stroke-width="2"/>
<circle cx="1277.9" cy="225.5" r="5.8" fill="#6a0058" stroke="#000" stroke-width="2"/>
<circle cx="1389.1" cy="225.2" r="5.8" fill="#6a0058" stroke="#000" stroke-width="2"/>
<circle cx="1329.8" cy="224.8" r="5.8" fill="#6a0058" stroke="#000" stroke-width="2"/>
<circle cx="1321.8" cy="223.3" r="5.8" fill="#6a0058" stroke="#000" stroke-width="2"/>
<circle cx="1197.0" cy="223.1" r="5.8" fill="#6a0058" stroke="#000" stroke-width="2"/>
<circle cx="1207.9" cy="223.1" r="5.8" fill="#6a0058" stroke="#000" stroke-width="2"/>
<circle cx="1255.4" cy="222.6" r="5.8" fill="#6a0058" stroke="#000" stroke-width="2"/>
<circle cx="1349.4" cy="222.6" r="5.8" fill="#6a0058" stroke="#000" stroke-width="2"/>
<circle cx="1282.3" cy="221.8" r="5.8" fill="#6a0058" stroke="#000" stroke-width="2"/>
<circle cx="1269.9" cy="218.2" r="5.8" fill="#6a0058" stroke="#000" stroke-width="2"/>
<circle cx="1210.8" cy="217.2" r="5.8" fill="#6a0058" stroke="#000" stroke-width="2"/>
<circle cx="1416.2" cy="212.1" r="5.8" fill="#6a0058" stroke="#000" stroke-width="2"/>
<circle cx="1264.9" cy="211.7" r="5.8" fill="#6a0058" stroke="#000" stroke-width="2"/>
<circle cx="1277.2" cy="211.7" r="5.8" fill="#6a0058" stroke="#000" stroke-width="2"/>
<circle cx="1256.1" cy="207.3" r="5.8" fill="#6a0058" stroke="#000" stroke-width="2"/>
<circle cx="1282.3" cy="207.3" r="5.8" fill="#6a0058" stroke="#000" stroke-width="2"/>
<circle cx="1397.8" cy="206.7" r="5.8" fill="#6a0058" stroke="#000" stroke-width="2"/>
<circle cx="1193.4" cy="206.3" r="5.8" fill="#6a0058" stroke="#000" stroke-width="2"/>
<circle cx="1339.3" cy="205.8" r="5.8" fill="#6a0058" stroke="#000" stroke-width="2"/>
<circle cx="1408.5" cy="205.7" r="5.8" fill="#6a0058" stroke="#000" stroke-width="2"/>
<circle cx="1195.6" cy="204.1" r="5.8" fill="#6a0058" stroke="#000" stroke-width="2"/>
<circle cx="1332.2" cy="203.6" r="5.8" fill="#6a0058" stroke="#000" stroke-width="2"/>
<circle cx="1204.3" cy="202.6" r="5.8" fill="#6a0058" stroke="#000" stroke-width="2"/>
<circle cx="1347.4" cy="202.5" r="5.8" fill="#6a0058" stroke="#000" stroke-width="2"/>
<circle cx="1394.0" cy="201.8" r="5.8" fill="#6a0058" stroke="#000" stroke-width="2"/>
<circle cx="1272.2" cy="199.8" r="5.8" fill="#6a0058" stroke="#000" stroke-width="2"/>
<circle cx="1191.6" cy="197.6" r="5.8" fill="#6a0058" stroke="#000" stroke-width="2"/>
<circle cx="1213.0" cy="197.6" r="5.8" fill="#6a0058" stroke="#000" stroke-width="2"/>
<circle cx="1266.7" cy="196.6" r="5.8" fill="#6a0058" stroke="#000" stroke-width="2"/>
<circle cx="1411.4" cy="194.0" r="5.8" fill="#6a0058" stroke="#000" stroke-width="2"/>
<circle cx="1274.4" cy="193.3" r="5.8" fill="#6a0058" stroke="#000" stroke-width="2"/>
<circle cx="1324.6" cy="193.3" r="5.8" fill="#6a0058" stroke="#000" stroke-width="2"/>
<circle cx="1261.3" cy="192.2" r="5.8" fill="#6a0058" stroke="#000" stroke-width="2"/>
<circle cx="1344.8" cy="190.5" r="5.8" fill="#6a0058" stroke="#000" stroke-width="2"/>
<circle cx="1186.8" cy="190.3" r="5.8" fill="#6a0058" stroke="#000" stroke-width="2"/>
<circle cx="1219.2" cy="188.4" r="5.8" fill="#6a0058" stroke="#000" stroke-width="2"/>
<circle cx="1325.9" cy="188.4" r="5.8" fill="#6a0058" stroke="#000" stroke-width="2"/>
<circle cx="1253.1" cy="188.3" r="5.8" fill="#6a0058" stroke="#000" stroke-width="2"/>
<circle cx="1277.6" cy="188.3" r="5.8" fill="#6a0058" stroke="#000" stroke-width="2"/>
<circle cx="1283.7" cy="188.3" r="5.8" fill="#6a0058" stroke="#000" stroke-width="2"/>
<circle cx="1330.6" cy="187.2" r="5.8" fill="#6a0058" stroke="#000" stroke-width="2"/>
<circle cx="1193.7" cy="186.6" r="5.8" fill="#6a0058" stroke="#000" stroke-width="2"/>
<circle cx="1211.3" cy="186.6" r="5.8" fill="#6a0058" stroke="#000" stroke-width="2"/>
<circle cx="1260.4" cy="186.6" r="5.8" fill="#6a0058" stroke="#000" stroke-width="2"/>
<circle cx="1202.5" cy="180.5" r="5.8" fill="#6a0058" stroke="#000" stroke-width="2"/>
<circle cx="1342.0" cy="179.0" r="5.8" fill="#6a0058" stroke="#000" stroke-width="2"/>
<circle cx="1251.4" cy="178.5" r="5.8" fill="#6a0058" stroke="#000" stroke-width="2"/>
<circle cx="1402.7" cy="178.4" r="5.8" fill="#6a0058" stroke="#000" stroke-width="2"/>
<circle cx="1389.1" cy="176.5" r="5.8" fill="#6a0058" stroke="#000" stroke-width="2"/>
<circle cx="1189.0" cy="176.4" r="5.8" fill="#6a0058" stroke="#000" stroke-width="2"/>
<circle cx="1344.8" cy="171.3" r="5.8" fill="#6a0058" stroke="#000" stroke-width="2"/>
<circle cx="1326.1" cy="171.3" r="5.8" fill="#6a0058" stroke="#000" stroke-width="2"/>
<circle cx="1278.7" cy="169.8" r="5.8" fill="#6a0058" stroke="#000" stroke-width="2"/>
<circle cx="1215.9" cy="168.9" r="5.8" fill="#6a0058" stroke="#000" stroke-width="2"/>
<circle cx="1336.0" cy="167.0" r="5.8" fill="#6a0058" stroke="#000" stroke-width="2"/>
<circle cx="1415.8" cy="166.8" r="5.8" fill="#6a0058" stroke="#000" stroke-width="2"/>
<line x1="1180.4" y1="200.1" x2="1224.8" y2="200.1" stroke="#000" stroke-width="2.6"/>
<line x1="1247.8" y1="222.8" x2="1291.5" y2="222.8" stroke="#000" stroke-width="2.6"/>
<line x1="1313.8" y1="227.8" x2="1357.8" y2="227.8" stroke="#000" stroke-width="2.6"/>
<line x1="1380.9" y1="233.8" x2="1424.5" y2="233.8" stroke="#000" stroke-width="2.6"/>
<path d="M1204.9,122.7 L1409.4,140.2 L1204.9,140.4 Z" fill="url(#tri)" stroke="#aaa" stroke-width="0.6"/>
<text transform="translate(1223.6,115.5) scale(0.81,1.04)" font-size="25.4" fill="#444" font-weight="normal" text-anchor="start" >Linear trend</text>
<text x="1209.5" y="122" font-size="20" fill="#444" font-weight="normal" text-anchor="start" >*</text>
<text x="660" y="432.5" font-size="66" fill="#231f20" font-weight="bold" text-anchor="start" >c</text>
<rect x="655.8" y="459.6" width="840" height="2.6" fill="#585858"/>
<rect x="654.3" y="490.2" width="840" height="2.6" fill="#585858"/>
<text transform="translate(665.8,484) scale(1.0,1.04)" font-size="20.9" fill="#333" font-weight="normal" text-anchor="start" >Parameter</text>
<text transform="translate(801.8,484) scale(1.0,1.04)" font-size="20.9" fill="#333" font-weight="normal" text-anchor="start" >Model</text>
<text transform="translate(1178.6,484) scale(1.0,1.04)" font-size="20.9" fill="#333" font-weight="normal" text-anchor="start" >Odds Ratio (95%CI)</text>
<text transform="translate(1410.8,484) scale(1.0,1.04)" font-size="20.9" fill="#333" font-weight="normal" text-anchor="start" >p-value</text>
<rect x="654.3" y="601" width="840" height="109" fill="#e6e7e8"/>
<text transform="translate(673,525.9) scale(1.0,1.04)" font-size="21.4" fill="#2a2a2a" font-weight="bold" text-anchor="start" >Albumin</text>
<text transform="translate(778.7,525.9) scale(1.0,1.04)" font-size="20.6" fill="#333" font-weight="normal" text-anchor="start" >unadjusted</text>
<text transform="translate(794.5,573.4) scale(1.0,1.04)" font-size="20.6" fill="#333" font-weight="normal" text-anchor="start" >adjusted</text>
<text transform="translate(695.2,634.6) scale(1.0,1.04)" font-size="21.4" fill="#2a2a2a" font-weight="bold" text-anchor="start" >ESR</text>
<text transform="translate(778.7,634.6) scale(1.0,1.04)" font-size="20.6" fill="#333" font-weight="normal" text-anchor="start" >unadjusted</text>
<text transform="translate(794.5,682.1) scale(1.0,1.04)" font-size="20.6" fill="#333" font-weight="normal" text-anchor="start" >adjusted</text>
<text transform="translate(1369.4,526.5) scale(1.0,1.04)" font-size="20.6" fill="#333" font-weight="normal" text-anchor="end" >0.17 (0.06-0.52)</text>
<text transform="translate(1369.4,575) scale(1.0,1.04)" font-size="20.6" fill="#333" font-weight="normal" text-anchor="end" >0.22 (0.07-0.70)</text>
<text transform="translate(1369.4,635) scale(1.0,1.04)" font-size="20.6" fill="#333" font-weight="normal" text-anchor="end" >1.03 (1.01-1.05)</text>
<text transform="translate(1369.4,683) scale(1.0,1.04)" font-size="20.6" fill="#333" font-weight="normal" text-anchor="end" >1.02 (1.00-1.05)</text>
<text transform="translate(1481.3,526.5) scale(1.0,1.04)" font-size="20.6" fill="#333" font-weight="normal" text-anchor="end" >&lt;0.01</text>
<text transform="translate(1481.3,575) scale(1.0,1.04)" font-size="20.6" fill="#333" font-weight="normal" text-anchor="end" >0.01</text>
<text transform="translate(1481.3,635) scale(1.0,1.04)" font-size="20.6" fill="#333" font-weight="normal" text-anchor="end" >0.01</text>
<text transform="translate(1482.7,683) scale(1.0,1.04)" font-size="20.6" fill="#333" font-weight="normal" text-anchor="end" >0.04</text>
<line x1="1119.6" y1="496" x2="1119.6" y2="708" stroke="#333" stroke-width="1.7" stroke-dasharray="1.9,2.2"/>
<line x1="980.15" y1="520.5" x2="1086.88" y2="520.5" stroke="#000" stroke-width="2"/>
<path d="M1031.63,511.0 L1041.13,520.5 L1031.63,530.0 L1022.13,520.5 Z" fill="#0e4a5c" stroke="#000" stroke-width="2.1"/>
<line x1="987.77" y1="568.5" x2="1101.57" y2="568.5" stroke="#000" stroke-width="2"/>
<path d="M1044.37,559.0 L1053.87,568.5 L1044.37,578.0 L1034.87,568.5 Z" fill="#f5b400" stroke="#000" stroke-width="2.1"/>
<line x1="1119.69" y1="629.2" x2="1121.61" y2="629.2" stroke="#000" stroke-width="2"/>
<path d="M1121.40,619.7 L1130.90,629.2 L1121.40,638.7 L1111.90,629.2 Z" fill="#0e4a5c" stroke="#000" stroke-width="2.1"/>
<line x1="1119.20" y1="677.2" x2="1121.61" y2="677.2" stroke="#000" stroke-width="2"/>
<path d="M1120.20,667.7 L1129.70,677.2 L1120.20,686.7 L1110.70,677.2 Z" fill="#f5b400" stroke="#000" stroke-width="2.1"/>
<rect x="890.2" y="708" width="346.6" height="3.4" fill="#444"/>
<line x1="891.60" y1="709" x2="891.60" y2="716" stroke="#444" stroke-width="2.6"/>
<line x1="925.86" y1="709" x2="925.86" y2="713.2" stroke="#444" stroke-width="2.2"/>
<line x1="945.90" y1="709" x2="945.90" y2="713.2" stroke="#444" stroke-width="2.2"/>
<line x1="960.11" y1="709" x2="960.11" y2="713.2" stroke="#444" stroke-width="2.2"/>
<line x1="971.14" y1="709" x2="971.14" y2="713.2" stroke="#444" stroke-width="2.2"/>
<line x1="980.15" y1="709" x2="980.15" y2="713.2" stroke="#444" stroke-width="2.2"/>
<line x1="987.77" y1="709" x2="987.77" y2="713.2" stroke="#444" stroke-width="2.2"/>
<line x1="994.37" y1="709" x2="994.37" y2="713.2" stroke="#444" stroke-width="2.2"/>
<line x1="1000.19" y1="709" x2="1000.19" y2="713.2" stroke="#444" stroke-width="2.2"/>
<line x1="1005.40" y1="709" x2="1005.40" y2="716" stroke="#444" stroke-width="2.6"/>
<line x1="1039.66" y1="709" x2="1039.66" y2="713.2" stroke="#444" stroke-width="2.2"/>
<line x1="1059.70" y1="709" x2="1059.70" y2="713.2" stroke="#444" stroke-width="2.2"/>
<line x1="1073.91" y1="709" x2="1073.91" y2="713.2" stroke="#444" stroke-width="2.2"/>
<line x1="1084.94" y1="709" x2="1084.94" y2="713.2" stroke="#444" stroke-width="2.2"/>
<line x1="1093.95" y1="709" x2="1093.95" y2="713.2" stroke="#444" stroke-width="2.2"/>
<line x1="1101.57" y1="709" x2="1101.57" y2="713.2" stroke="#444" stroke-width="2.2"/>
<line x1="1108.17" y1="709" x2="1108.17" y2="713.2" stroke="#444" stroke-width="2.2"/>
<line x1="1113.99" y1="709" x2="1113.99" y2="713.2" stroke="#444" stroke-width="2.2"/>
<line x1="1119.20" y1="709" x2="1119.20" y2="716" stroke="#444" stroke-width="2.6"/>
<line x1="1153.46" y1="709" x2="1153.46" y2="713.2" stroke="#444" stroke-width="2.2"/>
<line x1="1173.50" y1="709" x2="1173.50" y2="713.2" stroke="#444" stroke-width="2.2"/>
<line x1="1187.71" y1="709" x2="1187.71" y2="713.2" stroke="#444" stroke-width="2.2"/>
<line x1="1198.74" y1="709" x2="1198.74" y2="713.2" stroke="#444" stroke-width="2.2"/>
<line x1="1207.75" y1="709" x2="1207.75" y2="713.2" stroke="#444" stroke-width="2.2"/>
<line x1="1215.37" y1="709" x2="1215.37" y2="713.2" stroke="#444" stroke-width="2.2"/>
<line x1="1221.97" y1="709" x2="1221.97" y2="713.2" stroke="#444" stroke-width="2.2"/>
<line x1="1227.79" y1="709" x2="1227.79" y2="713.2" stroke="#444" stroke-width="2.2"/>
<line x1="1233.00" y1="709" x2="1233.00" y2="716" stroke="#444" stroke-width="2.6"/>
<text transform="translate(890,736) scale(1.0,1.04)" font-size="20.6" fill="#333" font-weight="normal" text-anchor="middle" >0.01</text>
<text transform="translate(1004.7,736) scale(1.0,1.04)" font-size="20.6" fill="#333" font-weight="normal" text-anchor="middle" >0.1</text>
<text transform="translate(1119.3,736) scale(1.0,1.04)" font-size="20.6" fill="#333" font-weight="normal" text-anchor="middle" >1</text>
<text transform="translate(1233.5,736) scale(1.0,1.04)" font-size="20.6" fill="#333" font-weight="normal" text-anchor="middle" >10</text>
<line x1="1117.2" y1="746.9" x2="1214" y2="746.9" stroke="#444" stroke-width="3"/>
<path d="M1212,739.6 L1231.4,746.9 L1212,754.2 Z" fill="#444"/>
<text transform="translate(1174,778.8) scale(1.0,1.04)" font-size="26.1" fill="#333" font-weight="normal" text-anchor="middle" >associated</text>
<text transform="translate(1174.5,803.5) scale(1.0,1.04)" font-size="26.1" fill="#333" font-weight="normal" text-anchor="middle" >with anemia</text>
</svg></body></html>
